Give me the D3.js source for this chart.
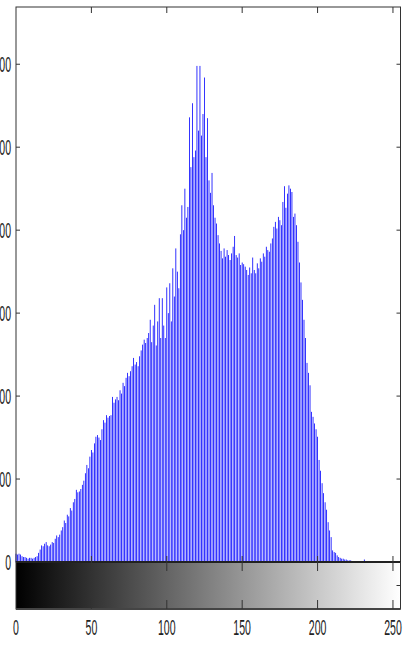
<!DOCTYPE html>
<html>
<head>
<meta charset="utf-8">
<script src="https://cdn.jsdelivr.net/npm/d3@7"></script>
<style>
  body { margin: 0; background: #fff; }
  text { font-family: "Liberation Sans", Arial, sans-serif; fill: #222; }
</style>
</head>
<body>
<div id="chart"></div>
<script>
// pixel counts per grey level 0..255
const counts = [
  10, 9, 10, 9, 7, 6, 6, 5, 4, 5, 5, 4, 5, 6, 7, 11,
  15, 20, 19, 22, 24, 20, 19, 21, 24, 23, 28, 32, 30, 33, 38, 42,
  50, 47, 57, 55, 65, 62, 72, 76, 87, 84, 85, 88, 93, 98, 107, 117,
  113, 127, 135, 132, 143, 151, 153, 150, 147, 160, 171, 168, 177, 174, 176, 177,
  199, 192, 196, 199, 195, 207, 203, 216, 212, 222, 228, 224, 230, 236, 246, 238,
  241, 236, 248, 255, 262, 268, 264, 270, 276, 292, 265, 285, 310, 261, 290, 318,
  270, 318, 285, 270, 331, 300, 336, 290, 354, 320, 378, 350, 330, 395, 430, 400,
  450, 415, 428, 536, 476, 553, 488, 496, 598, 520, 598, 514, 540, 584, 488, 535,
  460, 445, 469, 430, 415, 408, 394, 384, 375, 366, 378, 368, 376, 370, 364, 372,
  380, 393, 370, 367, 372, 358, 361, 359, 356, 352, 346, 355, 348, 367, 352, 348,
  360, 354, 366, 362, 372, 368, 380, 376, 374, 384, 390, 404, 410, 402, 416, 412,
  406, 434, 453, 427, 444, 454, 450, 446, 416, 420, 406, 386, 361, 337, 316, 292,
  270, 240, 228, 213, 181, 175, 167, 160, 151, 123, 110, 95, 83, 72, 63, 48,
  38, 30, 14, 12, 11, 8, 6, 5, 4, 4, 3, 3, 2, 2, 2, 1,
  1, 1, 0, 0, 0, 0, 0, 3, 0, 0, 0, 0, 0, 0, 0, 0,
  0, 0, 0, 0, 0, 0, 0, 0, 0, 0, 0, 0, 0, 0, 0, 0
];
const xTicks = [0, 50, 100, 150, 200, 250];
const yTicks = [0, 100, 200, 300, 400, 500, 600];

const W = 411, H = 646;
const axLeft = 16, axRight = 400.5, axTop = 7, zeroY = 562, barBottom = 609;

const svg = d3.select("#chart")
  .append("svg")
  .attr("width", W)
  .attr("height", H);

const x = d3.scaleLinear().domain([0, 255]).range([axLeft, axRight]);
const y = d3.scaleLinear().domain([0, 669]).range([zeroY, axTop]);

// grey ramp under the histogram
const grad = svg.append("defs").append("linearGradient")
  .attr("id", "ramp")
  .attr("x1", "0%").attr("x2", "100%");
grad.append("stop").attr("offset", "0%").attr("stop-color", "#000");
grad.append("stop").attr("offset", "100%").attr("stop-color", "#fff");

svg.append("rect")
  .attr("x", axLeft)
  .attr("y", zeroY)
  .attr("width", axRight - axLeft)
  .attr("height", barBottom - zeroY)
  .attr("fill", "url(#ramp)");

// histogram stems
svg.append("g")
  .selectAll("rect")
  .data(counts)
  .enter()
  .append("rect")
  .attr("x", (d, i) => x(i) - 0.4)
  .attr("y", d => y(d))
  .attr("width", 0.8)
  .attr("height", d => zeroY - y(d))
  .attr("fill", "#0000ff");

// frames
svg.append("rect")
  .attr("x", axLeft).attr("y", axTop)
  .attr("width", axRight - axLeft).attr("height", zeroY - axTop)
  .attr("fill", "none").attr("stroke", "#333").attr("stroke-width", 1);

svg.append("line")
  .attr("x1", axLeft).attr("x2", axRight)
  .attr("y1", zeroY).attr("y2", zeroY)
  .attr("stroke", "#111").attr("stroke-width", 2);

svg.append("rect")
  .attr("x", axLeft).attr("y", zeroY)
  .attr("width", axRight - axLeft).attr("height", barBottom - zeroY)
  .attr("fill", "none").attr("stroke", "#333").attr("stroke-width", 1);

svg.append("line")
  .attr("x1", axLeft).attr("x2", axRight)
  .attr("y1", barBottom).attr("y2", barBottom)
  .attr("stroke", "#444").attr("stroke-width", 2);

// tick marks
const ticks = svg.append("g").attr("stroke", "#333").attr("stroke-width", 1);

xTicks.filter(t => t > 0).forEach(t => {
  ticks.append("line").attr("x1", x(t)).attr("x2", x(t)).attr("y1", axTop).attr("y2", axTop + 6);
  ticks.append("line").attr("x1", x(t)).attr("x2", x(t)).attr("y1", zeroY).attr("y2", zeroY - 6);
  ticks.append("line").attr("x1", x(t)).attr("x2", x(t)).attr("y1", zeroY).attr("y2", zeroY + 9);
  ticks.append("line").attr("x1", x(t)).attr("x2", x(t)).attr("y1", barBottom).attr("y2", barBottom - 9);
});

yTicks.filter(t => t > 0).forEach(t => {
  ticks.append("line").attr("x1", axLeft).attr("x2", axLeft + 4).attr("y1", y(t)).attr("y2", y(t));
  ticks.append("line").attr("x1", axRight).attr("x2", axRight - 4).attr("y1", y(t)).attr("y2", y(t));
});

const midBar = (zeroY + barBottom) / 2;
ticks.append("line").attr("x1", axRight).attr("x2", axRight - 4).attr("y1", midBar).attr("y2", midBar);

// labels, squeezed like the source figure (left ones run off the edge as in the source)
svg.append("g")
  .selectAll("text")
  .data(yTicks)
  .enter()
  .append("text")
  .attr("transform", d => `translate(11,${y(d)}) scale(0.48,1)`)
  .attr("text-anchor", "end")
  .attr("dy", "0.36em")
  .style("font-size", "22px")
  .text(d => d);

svg.append("g")
  .selectAll("text")
  .data(xTicks)
  .enter()
  .append("text")
  .attr("transform", d => `translate(${x(d)},627) scale(0.48,1)`)
  .attr("text-anchor", "middle")
  .attr("dy", "0.36em")
  .style("font-size", "22px")
  .text(d => d);
</script>
</body>
</html>
